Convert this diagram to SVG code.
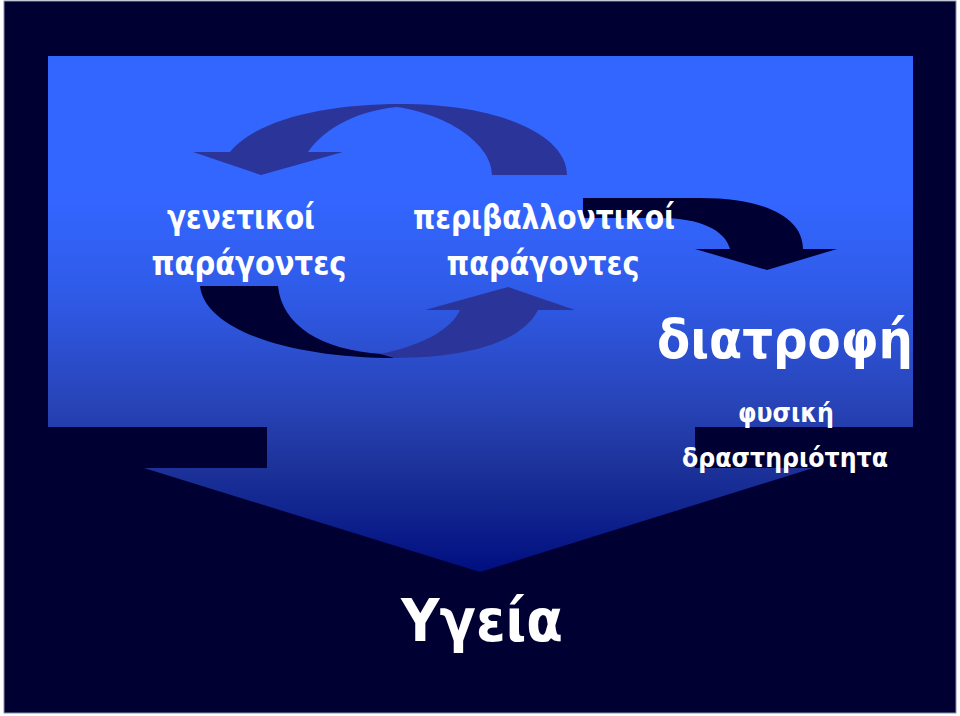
<svg xmlns="http://www.w3.org/2000/svg" width="960" height="716" viewBox="0 0 960 716">
  <defs>
    <linearGradient id="blueGrad" gradientUnits="userSpaceOnUse" x1="0" y1="56" x2="0" y2="572">
      <stop offset="0" stop-color="#3366ff"/>
      <stop offset="0.28" stop-color="#3366ff"/>
      <stop offset="0.47" stop-color="#2f5ae6"/>
      <stop offset="0.67" stop-color="#2844b8"/>
      <stop offset="0.80" stop-color="#1c3299"/>
      <stop offset="1" stop-color="#000f80"/>
    </linearGradient>
    <style>
      .lbl { font-family: "DejaVu Sans", "Noto Sans", sans-serif; font-weight: bold; fill: #ffffff; text-anchor: middle; }
      .mid { fill: #2b3599; }
      .dark { fill: #000033; }
    </style>
  </defs>

  <rect x="0" y="0" width="960" height="716" fill="#ffffff"/>
  <rect x="4" y="1" width="952" height="712" fill="#000033" stroke="#8a8fa8" stroke-width="1"/>

  <g id="bigArrow">
    <path d="M48,56 H913 V427 H695 V468 H813 L480,572 L144,468 H267 V427 H48 Z" fill="url(#blueGrad)"/>
  </g>

  <g id="connectors">
    <path id="topArrow" class="mid" d="M567,175 C567,135 500,104 400,104 C330,104 258,118 230,152 L193,152 L261,175 L343,152 L308,152 C322,132 350,112 397,107 C450,115 492,145 492,175 Z"/>
    <path id="bottomArrowBack" class="dark" d="M200,286 L278,286 C282,325 320,350 382,354 L395,358 C290,358 205,330 200,286 Z"/>
    <path id="bottomArrowFront" class="mid" d="M380,354 C425,345 452,328 460,310 L425,310 L508,287 L575,310 L538,310 C520,345 460,358 395,358 Z"/>
    <path id="rightArrow" class="dark" d="M583,198 H700 C770,198 803,220 803,249 L837,249 L767,270 L695,249 L730,249 C725,230 700,218 660,218 H583 Z"/>
  </g>

  <g id="genetic">
    <text class="lbl" x="241" y="229" font-size="33" textLength="148" lengthAdjust="spacingAndGlyphs">γενετικοί</text>
    <text class="lbl" x="249" y="275" font-size="33" textLength="195" lengthAdjust="spacingAndGlyphs">παράγοντες</text>
  </g>
  <g id="environmental">
    <text class="lbl" x="544" y="229" font-size="33" textLength="262" lengthAdjust="spacingAndGlyphs">περιβαλλοντικοί</text>
    <text class="lbl" x="543" y="275" font-size="33" textLength="193" lengthAdjust="spacingAndGlyphs">παράγοντες</text>
  </g>
  <g id="nutrition">
    <text class="lbl" x="785" y="358" font-size="54" textLength="256" lengthAdjust="spacingAndGlyphs">διατροφή</text>
  </g>
  <g id="activity">
    <text class="lbl" x="786" y="422" font-size="27" textLength="96" lengthAdjust="spacingAndGlyphs">φυσική</text>
    <text class="lbl" x="785" y="467" font-size="27" textLength="206" lengthAdjust="spacingAndGlyphs">δραστηριότητα</text>
  </g>
  <g id="health">
    <text class="lbl" x="482" y="641" font-size="58" textLength="162" lengthAdjust="spacingAndGlyphs">Υγεία</text>
  </g>
</svg>
